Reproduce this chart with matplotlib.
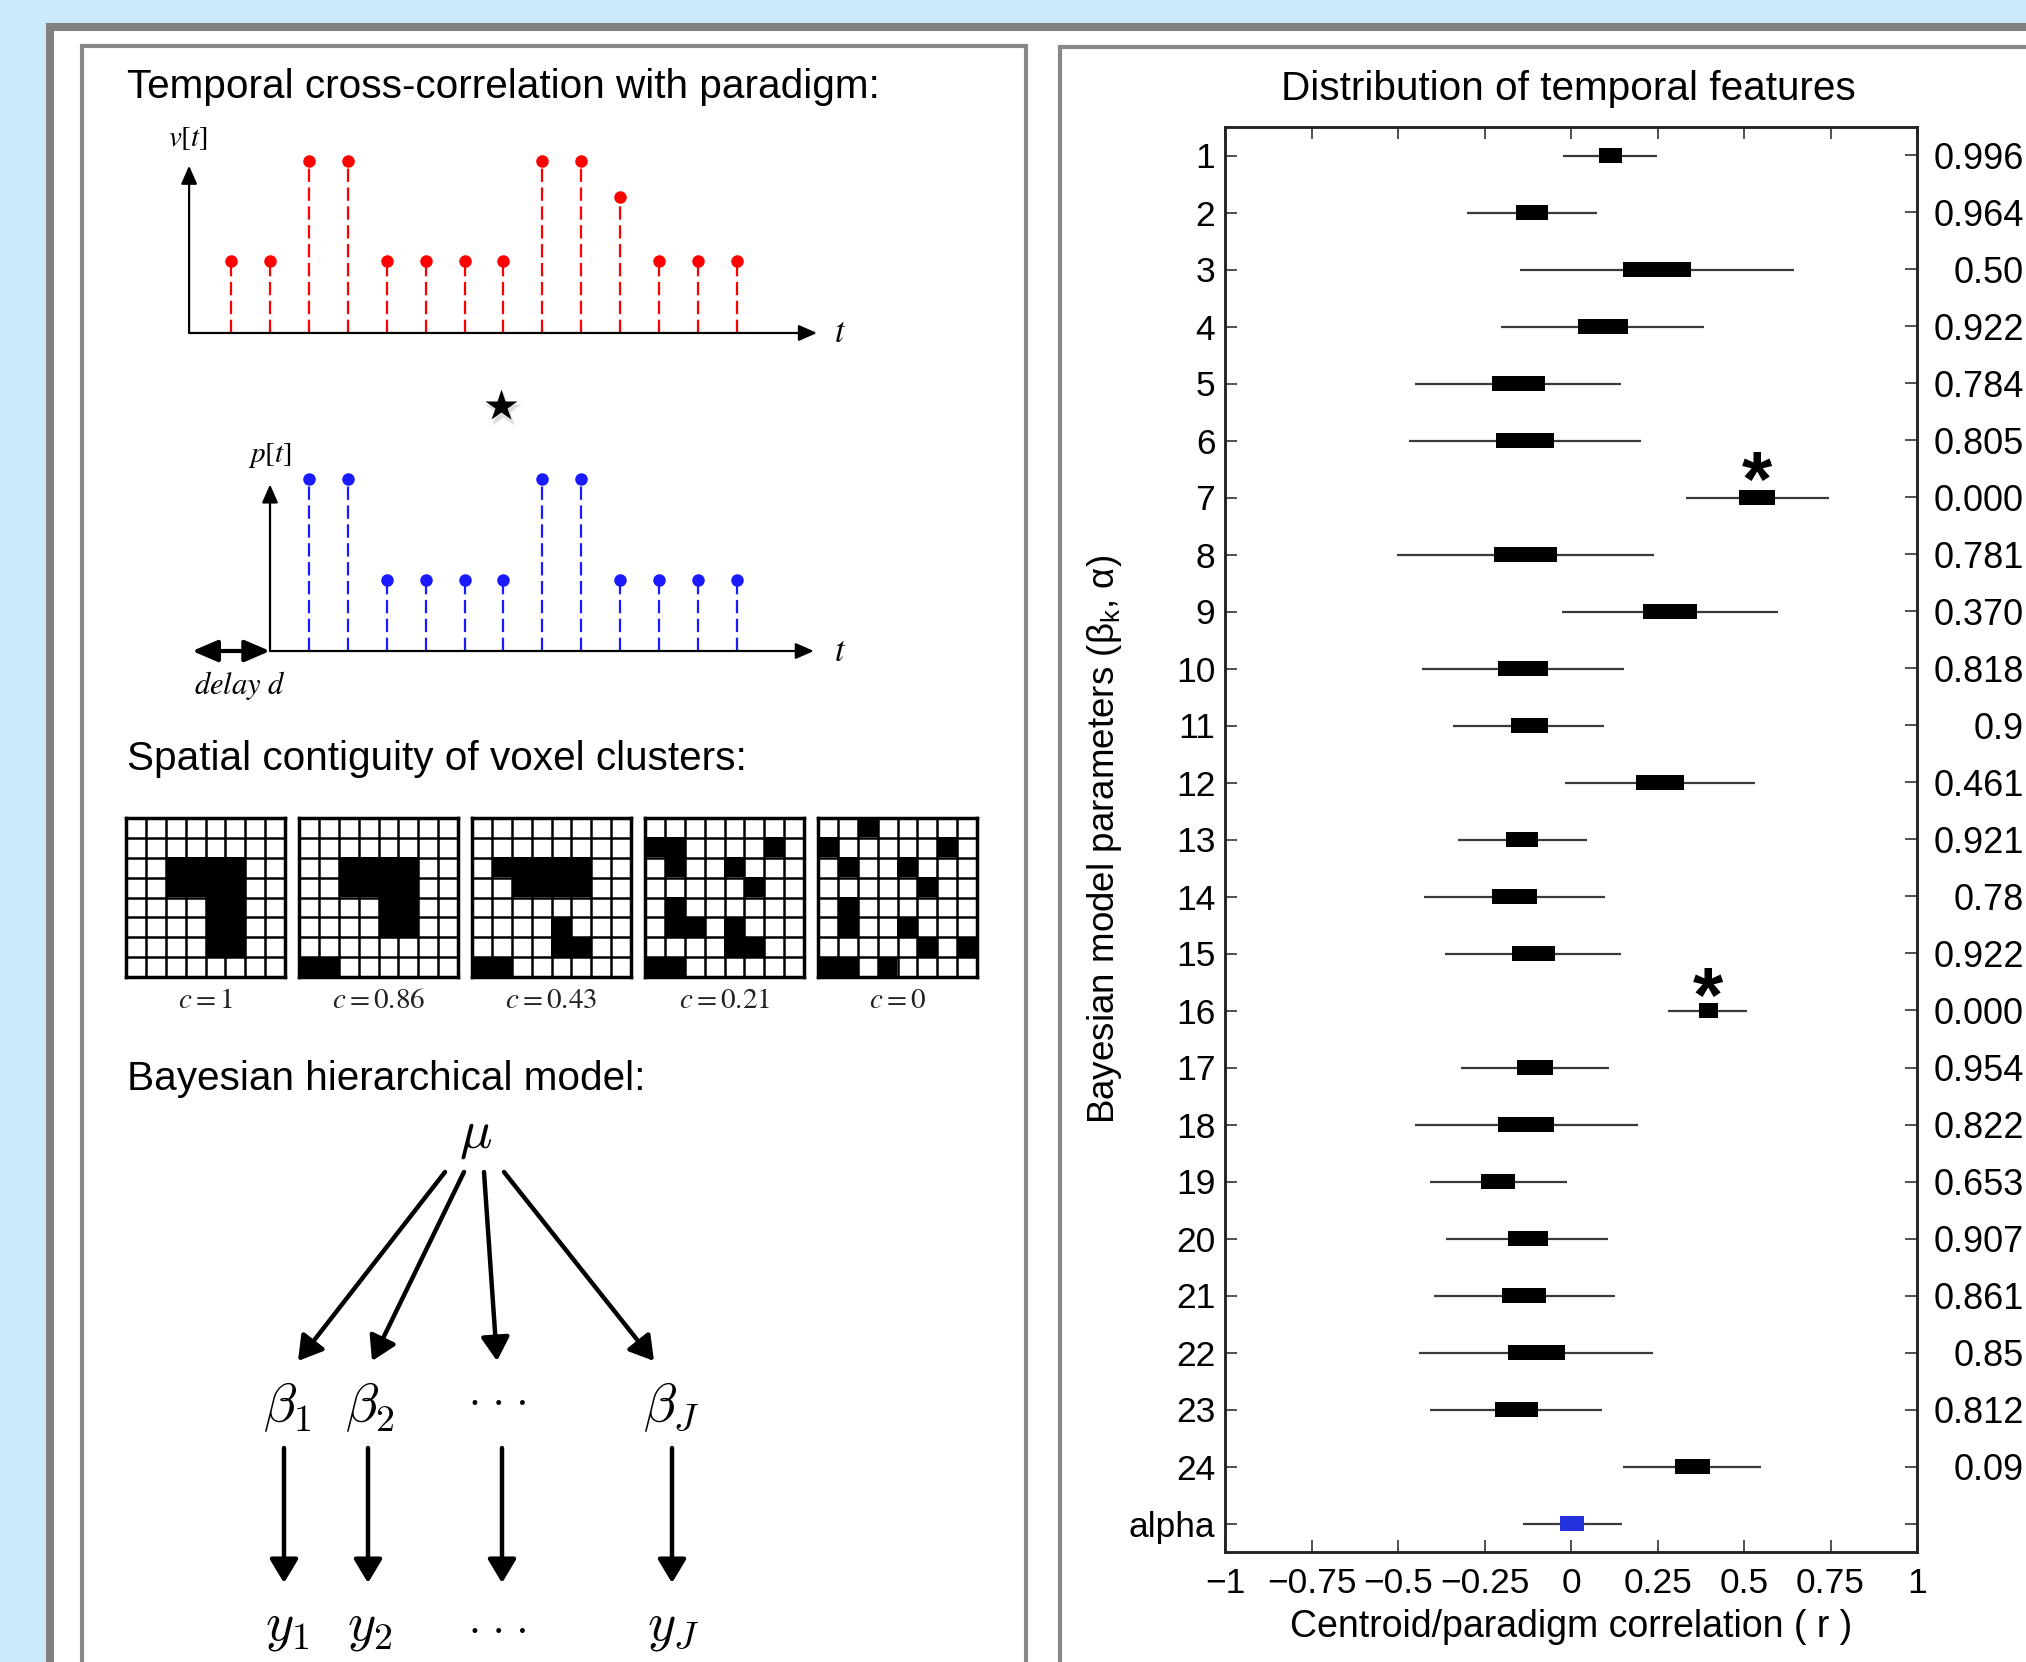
import numpy as np
import matplotlib.pyplot as plt
from matplotlib.patches import Rectangle

W, H = 2026, 1662
plt.rcParams['font.family'] = ['Liberation Sans', 'DejaVu Sans']

# ---- temporal cross-correlation sketch ----
v_t = list(range(1, 15))
v_vals = [1, 1, 2.4, 2.4, 1, 1, 1, 1, 2.4, 2.4, 1.9, 1, 1, 1]
delay = 2
p_t = list(range(3, 15))
p_vals = [2.4, 2.4, 1, 1, 1, 1, 2.4, 2.4, 1, 1, 1, 1]

# ---- voxel clusters (1 = black) ----
grid_c1 = ["00000000", "00000000", "00111100", "00111100",
           "00001100", "00001100", "00001100", "00000000"]
grid_c086 = ["00000000", "00000000", "00111100", "00111100",
             "00001100", "00001100", "00000000", "11000000"]
grid_c043 = ["00000000", "00000000", "01111100", "00111100",
             "00000000", "00001000", "00001100", "11000000"]
grid_c021 = ["00000000", "11000010", "01001000", "00000100",
             "01000000", "01101000", "00001100", "11000000"]
grid_c0 = ["00100000", "10000010", "01001000", "00000100",
           "01000000", "01001000", "00000101", "11010000"]
grids = [grid_c1, grid_c086, grid_c043, grid_c021, grid_c0]
grid_labels = [r'$c = 1$', r'$c = 0.86$', r'$c = 0.43$', r'$c = 0.21$', r'$c = 0$']

# ---- hierarchical model ----
dots = '\u00b7 \u00b7 \u00b7'
beta_labels = [r'$\beta_1$', r'$\beta_2$', dots, r'$\beta_J$']
y_labels = [r'$y_1$', r'$y_2$', dots, r'$y_J$']
node_x = [287, 370, 499, 671]
fan_start_x = [445, 464, 484, 504]
fan_end_x = [298, 372, 497, 654]
down_x = [284, 368, 502, 672]

# ---- distribution of temporal features ----
params = [str(i) for i in range(1, 25)] + ['alpha']
ci_low = [-0.022, -0.300, -0.147, -0.201, -0.450, -0.468, 0.333, -0.502, -0.027, -0.432,
          -0.340, -0.016, -0.327, -0.426, -0.363, 0.279, -0.318, -0.450, -0.408, -0.360,
          -0.396, -0.439, -0.408, 0.149, -0.138]
ci_high = [0.248, 0.074, 0.644, 0.383, 0.144, 0.203, 0.746, 0.239, 0.599, 0.153,
           0.095, 0.531, 0.045, 0.099, 0.144, 0.509, 0.110, 0.194, -0.013, 0.108,
           0.126, 0.236, 0.090, 0.550, 0.146]
box_low = [0.081, -0.158, 0.149, 0.020, -0.227, -0.216, 0.486, -0.223, 0.207, -0.212,
           -0.174, 0.189, -0.187, -0.228, -0.171, 0.369, -0.156, -0.210, -0.259, -0.183,
           -0.200, -0.183, -0.219, 0.302, -0.031]
box_high = [0.146, -0.067, 0.347, 0.164, -0.076, -0.049, 0.590, -0.040, 0.365, -0.067,
            -0.067, 0.326, -0.094, -0.099, -0.045, 0.424, -0.052, -0.049, -0.162, -0.067,
            -0.072, -0.016, -0.094, 0.401, 0.038]
p_labels = ["0.996", "0.964", "0.50", "0.922", "0.784", "0.805", "0.000", "0.781",
            "0.370", "0.818", "0.9", "0.461", "0.921", "0.78", "0.922", "0.000",
            "0.954", "0.822", "0.653", "0.907", "0.861", "0.85", "0.812", "0.09"]
starred = [7, 16]
x_ticks = [-1, -0.75, -0.5, -0.25, 0, 0.25, 0.5, 0.75, 1]
x_ticklabels = ['\u22121', '\u22120.75', '\u22120.5', '\u22120.25', '0',
                '0.25', '0.5', '0.75', '1']

fig = plt.figure(figsize=(W / 100, H / 100), dpi=100, facecolor='#cbeafb')


def px_axes(x0, y0, x1, y1, **kw):
    return fig.add_axes([x0 / W, 1 - y1 / H, (x1 - x0) / W, (y1 - y0) / H], **kw)


# background frames, pixel coordinates
bg = px_axes(0, 0, W, H)
bg.set_xlim(0, W)
bg.set_ylim(H, 0)
bg.axis('off')
bg.add_patch(Rectangle((49.5, 26.7), W, H, fc='white', ec='#808080', lw=5.8))
bg.add_patch(Rectangle((82, 45.5), 944, H, fc='white', ec='#888888', lw=3))
bg.add_patch(Rectangle((1060, 47), W, H, fc='white', ec='#888888', lw=3))

title_kw = dict(fontsize=29.2, va='baseline', color='black')
bg.text(127, 98, 'Temporal cross-correlation with paradigm:', ha='left', **title_kw)
bg.text(127, 770, 'Spatial contiguity of voxel clusters:', ha='left', **title_kw)
bg.text(127, 1090, 'Bayesian hierarchical model:', ha='left', **title_kw)
bg.text(1568, 100, 'Distribution of temporal features', ha='center', **title_kw)

# star (cross-correlation operator)
bg.plot(503, 410, marker='*', ms=27, color='#bbbbbb', alpha=0.5, mec='none')
bg.plot(501, 406, marker='*', ms=24, color='black', mec='none')

# ---- stem plots ----
t0 = -1.085
t1 = 17.68
arrow_kw = dict(arrowstyle='-|>,head_length=0.5,head_width=0.22', color='black',
                lw=1.6, mutation_scale=22, shrinkA=0, shrinkB=0)
sty = (0, (6, 2.5))

axv = px_axes(150, 110, 880, 360)
axv.set_xlim(t0, t1)
axv.set_ylim(-0.378, 3.119)
axv.axis('off')
ml, sl, bl = axv.stem(v_t, v_vals, linefmt='r-', markerfmt='o', basefmt=' ')
sl.set_linestyle(sty)
sl.set_linewidth(1.6)
sl.set_color('#ff0000')
ml.set_color('#ff0000')
ml.set_markersize(8)
axv.annotate('', xy=(16.06, 0), xytext=(-0.08, 0), arrowprops=arrow_kw)
axv.annotate('', xy=(-0.08, 2.34), xytext=(-0.08, 0), arrowprops=arrow_kw)
axv.text(-0.1, 2.73, r'$v[t]$', fontsize=21, ha='center', va='center', math_fontfamily='stix')
axv.text(16.65, 0, r'$t$', fontsize=25, ha='center', va='center', math_fontfamily='stix')

axp = px_axes(150, 440, 880, 710)
axp.set_xlim(t0, t1)
axp.set_ylim(-0.825, 2.951)
axp.axis('off')
ml, sl, bl = axp.stem(p_t, p_vals, linefmt='b-', markerfmt='o', basefmt=' ')
sl.set_linestyle(sty)
sl.set_linewidth(1.6)
sl.set_color('#1a1aff')
ml.set_color('#1a1aff')
ml.set_markersize(8)
axp.annotate('', xy=(15.98, 0), xytext=(delay, 0), arrowprops=arrow_kw)
axp.annotate('', xy=(delay, 2.33), xytext=(delay, 0), arrowprops=arrow_kw)
axp.annotate('', xy=(0, 0), xytext=(delay, 0),
             arrowprops=dict(arrowstyle='<|-|>,head_length=0.7,head_width=0.3',
                             color='black', lw=3, mutation_scale=22, shrinkA=0, shrinkB=0))
axp.text(delay, 2.73, r'$p[t]$', fontsize=21, ha='center', va='center', math_fontfamily='stix')
axp.text(16.65, 0, r'$t$', fontsize=25, ha='center', va='center', math_fontfamily='stix')
axp.text(1.23, -0.48, r'$delay\ d$', fontsize=22, ha='center', va='center', math_fontfamily='stix')

# ---- voxel grids ----
for i, (g, lab) in enumerate(zip(grids, grid_labels)):
    x0 = 126 + i * 173
    ax = px_axes(x0, 818, x0 + 159, 977)
    arr = np.array([[int(ch) for ch in row] for row in g])
    ax.imshow(arr, cmap='gray_r', vmin=0, vmax=1, extent=(0, 8, 8, 0), aspect='auto',
              interpolation='nearest')
    ax.vlines(np.arange(1, 8), 0, 8, color='black', lw=1.8)
    ax.hlines(np.arange(1, 8), 0, 8, color='black', lw=1.8)
    ax.set_xlim(0, 8)
    ax.set_ylim(8, 0)
    ax.set_xticks([])
    ax.set_yticks([])
    for s in ax.spines.values():
        s.set_linewidth(2.5)
    ax.text(0.5, -0.145, lab, transform=ax.transAxes, ha='center', va='center',
            fontsize=21, math_fontfamily='stix', color='#222222')

# ---- hierarchical model ----
math_kw = dict(fontsize=39, ha='center', va='center', math_fontfamily='cm')
dots_kw = dict(fontsize=27, ha='center', va='baseline', family='DejaVu Serif')
dag_arrow = dict(arrowstyle='-|>,head_length=0.6,head_width=0.36', color='black',
                 lw=3.2, mutation_scale=24, shrinkA=0, shrinkB=0)
bg.text(476, 1136, r'$\mu$', **math_kw)
for k in range(4):
    bg.annotate('', xy=(fan_end_x[k], 1361), xytext=(fan_start_x[k], 1172), arrowprops=dag_arrow)
    bg.annotate('', xy=(down_x[k], 1583), xytext=(down_x[k], 1448), arrowprops=dag_arrow)
    if k == 2:
        bg.text(node_x[k], 1416, beta_labels[k], **dots_kw)
        bg.text(node_x[k], 1644, y_labels[k], **dots_kw)
    else:
        bg.text(node_x[k], 1407, beta_labels[k], **math_kw)
        bg.text(node_x[k] + (2 if k == 3 else 0), 1628, y_labels[k], **math_kw)

# ---- distribution of temporal features ----
ax = px_axes(1225, 127, 1917, 1552)
ypos = np.arange(1, len(params) + 1)
ax.hlines(ypos, ci_low, ci_high, color='#3a3a3a', lw=1.6, zorder=2)
box_colors = ['black'] * 24 + ['#2233dd']
ax.barh(ypos, np.array(box_high) - np.array(box_low), left=box_low, height=0.26,
        color=box_colors, zorder=3)
for r in starred:
    ax.text((box_low[r - 1] + box_high[r - 1]) / 2, r + (0.14 if r == 7 else 0.2), '*',
            ha='center', va='baseline', fontsize=56, fontweight='bold')
ax.set_xlim(-1, 1)
ax.set_ylim(25.5, 0.5)
ax.set_xticks(x_ticks, x_ticklabels)
ax.set_yticks(ypos, params)
ax.tick_params(direction='in', length=8.4, width=1.1, labelsize=25.5, top=True,
               color='#222222')
ax.tick_params(axis='x', pad=11)
ax.tick_params(axis='y', pad=7)
for s in ax.spines.values():
    s.set_linewidth(1.8)
    s.set_color('#222222')
ax.set_xlabel('Centroid/paradigm correlation ( r )', fontsize=27, labelpad=6)
ax.set_ylabel('Bayesian model parameters (β$_\\mathregular{k}$, α)', fontsize=26.5)
ax.yaxis.set_label_coords(-0.146, 0.5)

ax2 = ax.twinx()
ax2.set_ylim(25.5, 0.5)
ax2.set_yticks(ypos, p_labels + [''])
ax2.tick_params(direction='in', length=8.4, width=1.1, labelsize=26, pad=77,
                color='#222222')
for lab in ax2.get_yticklabels():
    lab.set_horizontalalignment('right')
for s in ax2.spines.values():
    s.set_linewidth(1.8)
    s.set_color('#222222')

fig.savefig('out.png', dpi=100, facecolor=fig.get_facecolor())
